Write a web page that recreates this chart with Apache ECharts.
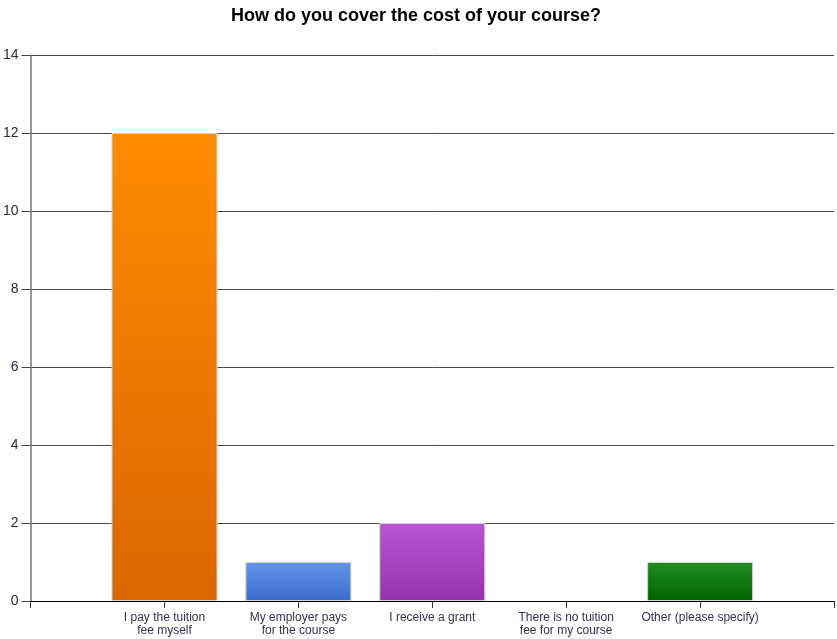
<!DOCTYPE html>
<html>
<head>
<meta charset="utf-8">
<script src="https://cdn.jsdelivr.net/npm/echarts@6/dist/echarts.min.js"></script>
<style>
  html, body { margin: 0; padding: 0; background: #fff; }
  #chart { width: 837px; height: 639px; }
</style>
</head>
<body>
<div id="chart"></div>
<script>
// Survey answers and how many respondents picked each
const categories = [
  'I pay the tuition\nfee myself',
  'My employer pays\nfor the course',
  'I receive a grant',
  'There is no tuition\nfee for my course',
  'Other (please specify)'
];
const counts = [12, 1, 2, 0, 1];
const yTicks = [0, 2, 4, 6, 8, 10, 12, 14];

// Top / bottom gradient colour for each bar
const barTop = ['#FF8C00', '#6495ED', '#BA55D3', '#8B8B8B', '#228B22'];
const barBottom = ['#DA6600', '#3C6CC8', '#9632AA', '#666666', '#006400'];

// Pad an empty slot either side so each answer sits on its own tick
const axisCats = [''].concat(categories, ['']);
const barData = [null].concat(counts.map((v, i) => ({
  value: v,
  itemStyle: {
    color: new echarts.graphic.LinearGradient(0, 0, 0, 1, [
      { offset: 0, color: barTop[i] },
      { offset: 1, color: barBottom[i] }
    ]),
    borderColor: v > 0 ? '#D4D4D4' : 'transparent',
    borderWidth: 1
  }
})), [null]);

const chart = echarts.init(document.getElementById('chart'), null, { renderer: 'canvas' });
chart.setOption({
  animation: false,
  backgroundColor: '#ffffff',
  title: {
    text: 'How do you cover the cost of your course?',
    left: 226,
    top: 2,
    textStyle: { fontFamily: 'Liberation Sans, Arial, sans-serif', fontSize: 18, fontWeight: 'bold', color: '#000' }
  },
  grid: { left: 30, right: 1, top: 55, bottom: 38, containLabel: false },
  xAxis: {
    type: 'category',
    data: axisCats,
    boundaryGap: false,
    axisLine: { show: true, lineStyle: { color: '#000', width: 1 } },
    axisTick: { show: true, length: 7, lineStyle: { color: '#333' }, alignWithLabel: true },
    axisLabel: {
      interval: 0,
      margin: 10,
      fontFamily: 'Liberation Sans, Arial, sans-serif',
      fontSize: 12,
      lineHeight: 13,
      color: '#33334a'
    },
    splitLine: { show: false }
  },
  yAxis: {
    type: 'value',
    min: yTicks[0],
    max: yTicks[yTicks.length - 1],
    interval: 2,
    axisLine: { show: true, lineStyle: { color: '#777', width: 1.5 } },
    axisTick: { show: true, length: 9, lineStyle: { color: '#444' } },
    axisLabel: {
      margin: 12,
      fontFamily: 'Liberation Sans, Arial, sans-serif',
      fontSize: 14,
      color: '#2a2a3a'
    },
    splitLine: { show: true, lineStyle: { color: '#4a4a4a', width: 1 } }
  },
  series: [{
    type: 'bar',
    data: barData,
    barWidth: 106
  }]
});
</script>
</body>
</html>
